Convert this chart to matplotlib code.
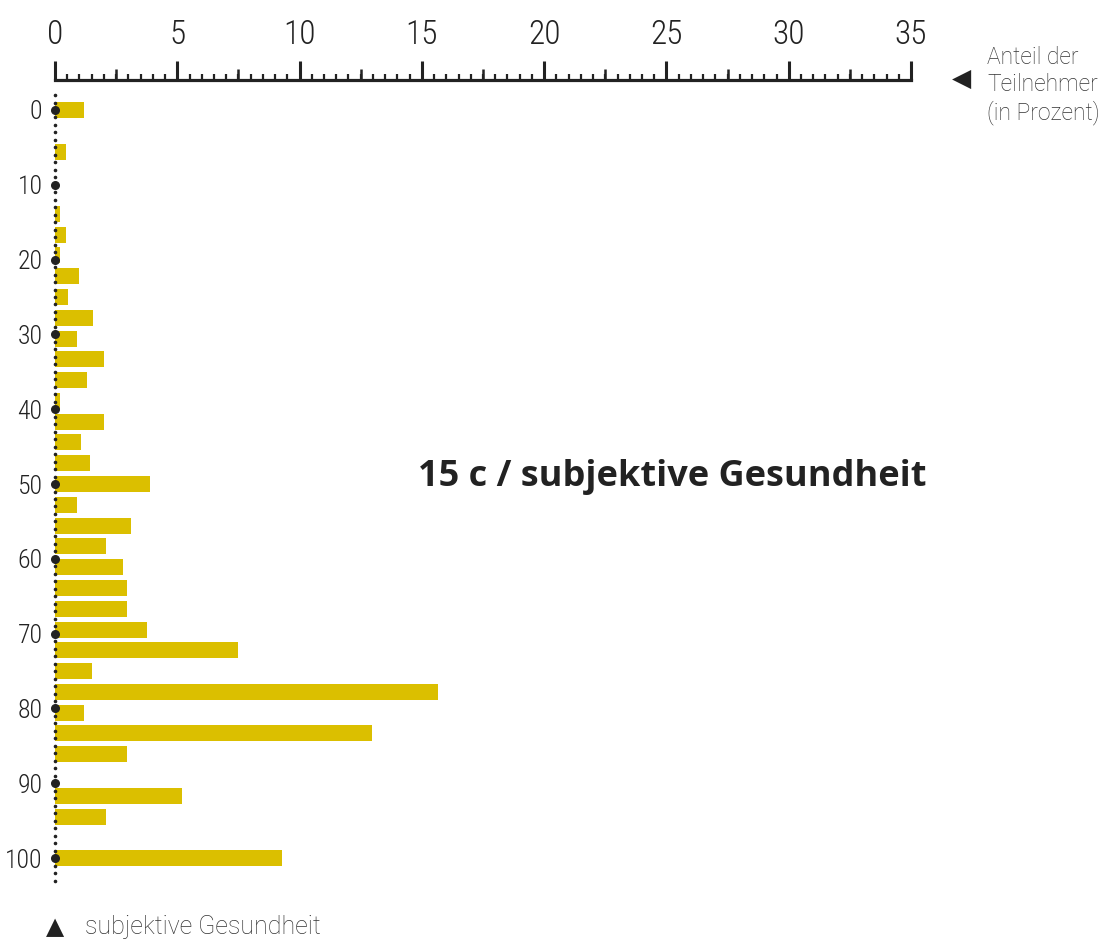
import numpy as np
import matplotlib
matplotlib.use("Agg")
import matplotlib.pyplot as plt
from matplotlib.ticker import MultipleLocator

# subjective health score (0-100 in steps of 100/36) and share of participants (%)
steps = [0, 2, 5, 6, 7, 8, 9, 10, 11, 12, 13, 14, 15, 16, 17, 18, 19, 20,
         21, 22, 23, 24, 25, 26, 27, 28, 29, 30, 31, 33, 34, 36]
health = [s * 100 / 36 for s in steps]
share = [1.2, 0.45, 0.2, 0.45, 0.2, 1.0, 0.55, 1.55, 0.9, 2.0, 1.3, 0.2,
         2.0, 1.05, 1.45, 3.9, 0.9, 3.1, 2.1, 2.8, 2.95, 2.95, 3.75, 7.5,
         1.5, 15.65, 1.2, 12.95, 2.95, 5.2, 2.1, 9.3]

x_ticks = list(range(0, 36, 5))
y_ticks = list(range(0, 101, 10))

title = "15 c / subjektive Gesundheit"
x_label = "Anteil der\nTeilnehmer\n(in Prozent)"
y_label = "subjektive Gesundheit"

BAR = "#DBBF00"
INK = "#222222"
SOFT = "#333333"
COND = ["Roboto Condensed", "Liberation Sans Narrow", "DejaVu Sans"]
LIGHT = ["Roboto", "DejaVu Sans"]

fig = plt.figure(figsize=(11.11, 9.52), dpi=100)
ax = fig.add_axes([0.0495, 0.0672, 0.7705, 0.8487])

ax.barh(health, share, height=2.14, color=BAR, zorder=2)

# dotted zero line with larger dots at the labelled values
ax.scatter(np.zeros(106), np.arange(-2, 104), s=2.5, color=INK, zorder=3, clip_on=False)
ax.scatter(np.zeros(len(y_ticks)), y_ticks, s=30, color=INK, zorder=3, clip_on=False)

ax.set_xlim(0, 35)
ax.set_ylim(104, -4)

for side in ["left", "right", "bottom"]:
    ax.spines[side].set_visible(False)
ax.spines["top"].set_linewidth(2.3)
ax.spines["top"].set_color(INK)

ax.xaxis.set_ticks_position("top")
ax.set_xticks(x_ticks)
ax.xaxis.set_minor_locator(MultipleLocator(0.5))
ax.tick_params(axis="x", which="major", direction="out", length=13.5, width=2.2,
               color=INK, pad=7.5, labelsize=24, labelcolor=INK)
ax.tick_params(axis="x", which="minor", direction="out", length=4, width=1.6, color=INK)
for lab in ax.get_xticklabels():
    lab.set_family(COND)
    lab.set_fontweight("light")

# medium ticks at the half-way marks
sec = ax.secondary_xaxis("top")
sec.set_xticks([t + 2.5 for t in x_ticks[:-1]])
sec.tick_params(axis="x", direction="out", length=8, width=1.8, color=INK, labeltop=False)
sec.spines["top"].set_visible(False)

ax.set_yticks(y_ticks)
ax.tick_params(axis="y", length=0, pad=9, labelsize=18.5, labelcolor=INK)
for lab in ax.get_yticklabels():
    lab.set_family(COND)
    lab.set_fontweight("light")

fig.text(0.605, 1 - 477 / 952, title, ha="center", va="center", fontsize=26,
         fontweight="bold", color=INK, family=["Open Sans", "Roboto", "DejaVu Sans"])

fig.text(962 / 1111, 1 - 79 / 952, "\u25C0", ha="center", va="center", fontsize=18,
         color=INK, family="DejaVu Sans")
fig.text(987 / 1111, 1 - 85.5 / 952, x_label, ha="left", va="center", fontsize=16.5,
         linespacing=1.22, color=SOFT, family=LIGHT, fontweight="light")

fig.text(55 / 1111, 1 - 927 / 952, "\u25B2", ha="center", va="center", fontsize=17,
         color=INK, family="DejaVu Sans")
fig.text(85 / 1111, 1 - 927 / 952, y_label, ha="left", va="center", fontsize=18,
         color=SOFT, family=LIGHT, fontweight="light")

fig.savefig("out.png", dpi=100)
